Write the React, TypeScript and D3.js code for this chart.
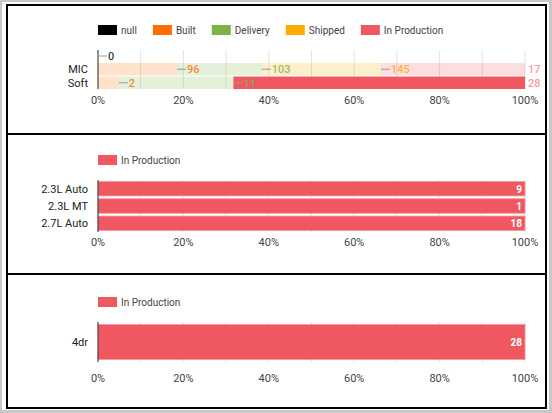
import React from "react";
import * as d3 from "d3";

const seriesNames = ["null", "Built", "Delivery", "Shipped", "In Production"];
const seriesColors = ["#000000", "#ff6d00", "#7cb342", "#ffab00", "#ef5860"];

const chart1Categories = ["MIC", "Soft"];
const micValues: (number | null)[] = [0, 96, 103, 145, 175];
const softValues: (number | null)[] = [null, 2, 11, null, 28];

const chart2Categories = ["2.3L Auto", "2.3L MT", "2.7L Auto"];
const chart2Values = [9, 1, 18];

const chart3Categories = ["4dr"];
const chart3Values = [28];

const tickValues = [0, 0.2, 0.4, 0.6, 0.8, 1];
const gridValues = d3.range(0, 11).map((d) => d / 10);

const FONT = "Roboto, 'Noto Sans', sans-serif";
const X0 = 98;
const X1 = 525;

const x = d3.scaleLinear().domain([0, 1]).range([X0, X1]);
const fmt = d3.format(".0%");

let ctx: CanvasRenderingContext2D | null = null;
function textWidth(s: string, size: number) {
  if (!ctx && typeof document !== "undefined") {
    ctx = document.createElement("canvas").getContext("2d");
  }
  if (!ctx) return s.length * size * 0.5;
  ctx.font = `${size}px Roboto`;
  return ctx.measureText(s).width;
}

function Axis({ top, bottom, tickY }: { top: number; bottom: number; tickY: number }) {
  return (
    <g>
      {gridValues.map((g) => (
        <line key={g} x1={x(g)} x2={x(g)} y1={top} y2={bottom} stroke="#e4e4e4" strokeWidth={1} />
      ))}
      {tickValues.map((t) => (
        <text key={t} x={x(t)} y={tickY} textAnchor="middle" fontSize={11} fill="#444" fontFamily={FONT}>
          {fmt(t)}
        </text>
      ))}
    </g>
  );
}

function Legend({ y, names, colors }: { y: number; names: string[]; colors: string[] }) {
  let cx = X0;
  const items: React.ReactNode[] = [];
  names.forEach((n, i) => {
    const w = textWidth(n, 10);
    items.push(
      <g key={n}>
        <rect x={cx} y={y - 5} width={19} height={10} fill={colors[i]} />
        <text x={cx + 23} y={y + 3.5} fontSize={10} fill="#444" fontFamily={FONT}>
          {n}
        </text>
      </g>
    );
    cx += 23 + w + 16;
  });
  return <g>{items}</g>;
}

function Chart1() {
  const rows = [micValues, softValues];
  const table = rows.map((vals) => {
    const o: any = {};
    seriesNames.forEach((s, i) => (o[s] = vals[i] ?? 0));
    return o;
  });
  const stacked = d3.stack().keys(seriesNames).offset(d3.stackOffsetExpand)(table);
  const y = d3.scaleBand().domain(chart1Categories).range([63, 89]).paddingInner(0.08);
  const top = 50;
  const bottom = 89;
  const marks: React.ReactNode[] = [];
  const labels: React.ReactNode[] = [];
  stacked.forEach((layer, si) => {
    layer.forEach((seg, ri) => {
      const cat = chart1Categories[ri];
      const v = rows[ri][si];
      const full = ri === 1 && si === 4;
      const yy = y(cat)!;
      const bw = x(seg[1]) - x(seg[0]);
      if (bw > 0) {
        marks.push(
          <rect
            key={`b${si}-${ri}`}
            x={x(seg[0])}
            y={yy}
            width={bw}
            height={y.bandwidth()}
            fill={seriesColors[si]}
            fillOpacity={full ? 1 : 0.2}
          />
        );
      }
      if (v !== null && v !== undefined) {
        const end = x(seg[1]);
        let ly = yy + y.bandwidth() / 2;
        if (v === 0) ly = yy - 7;
        const atEnd = end >= X1 - 0.5;
        const tx = atEnd ? end + 3 : end + 10;
        labels.push(
          <g key={`a${si}-${ri}`}>
            {!atEnd && <line x1={end} x2={end + 9} y1={ly} y2={ly} stroke="#999" strokeWidth={1} />}
            <text
              x={tx}
              y={ly + 4}
              fontSize={11}
              fontWeight={500}
              fill={seriesColors[si]}
              fillOpacity={atEnd ? 0.6 : 0.8}
              fontFamily={FONT}
            >
              {v}
            </text>
          </g>
        );
      }
    });
  });
  return (
    <g>
      <Legend y={30} names={seriesNames} colors={seriesColors} />
      <Axis top={top} bottom={bottom} tickY={104} />
      {marks}
      <line x1={X0} x2={X0} y1={top} y2={bottom} stroke="#333" strokeWidth={1} />
      <g clipPath="url(#annot)">{labels}</g>
      {chart1Categories.map((c) => (
        <text key={c} x={88} y={y(c)! + y.bandwidth() / 2 + 4} textAnchor="end" fontSize={11} fill="#222" fontFamily={FONT}>
          {c}
        </text>
      ))}
    </g>
  );
}

function SingleChart({
  cats,
  vals,
  legendY,
  top,
  bottom,
  tickY,
  pad,
}: {
  cats: string[];
  vals: number[];
  legendY: number;
  top: number;
  bottom: number;
  tickY: number;
  pad: number;
}) {
  const y = d3.scaleBand().domain(cats).range([top, bottom]).paddingInner(pad).paddingOuter(pad / 2);
  const color = seriesColors[4];
  return (
    <g>
      <Legend y={legendY} names={["In Production"]} colors={[color]} />
      <Axis top={top} bottom={bottom} tickY={tickY} />
      {cats.map((c, i) => (
        <g key={c}>
          <rect x={x(0)} y={y(c)} width={x(vals[i] / vals[i]) - x(0)} height={y.bandwidth()} fill={color} stroke="#f59a9e" strokeWidth={0.8} />
          <text x={x(1) - 3} y={y(c)! + y.bandwidth() / 2 + 4} textAnchor="end" fontSize={10} fontWeight="bold" fill="#fff" fontFamily={FONT}>
            {vals[i]}
          </text>
          <text x={88} y={y(c)! + y.bandwidth() / 2 + 4} textAnchor="end" fontSize={11} fill="#222" fontFamily={FONT}>
            {c}
          </text>
        </g>
      ))}
      <line x1={X0} x2={X0} y1={top} y2={bottom} stroke="#333" strokeWidth={1} />
    </g>
  );
}

export default function App() {
  return (
    <svg width={552} height={413} style={{ position: "absolute", left: 0, top: 0 }}>
      <defs>
        <clipPath id="inner">
          <rect x={8} y={6} width={537} height={401} />
        </clipPath>
        <clipPath id="annot">
          <rect x={8} y={6} width={533} height={127} />
        </clipPath>
      </defs>
      <rect x={0} y={0} width={552} height={413} fill="#c8c8c8" />
      <rect x={2} y={2} width={547} height={408} fill="#ffffff" />
      <g clipPath="url(#inner)">
        <Chart1 />
        <SingleChart cats={chart2Categories} vals={chart2Values} legendY={160} top={180} bottom={232} tickY={246} pad={0.16} />
        <SingleChart cats={chart3Categories} vals={chart3Values} legendY={302} top={322} bottom={362} tickY={382} pad={0.12} />
      </g>
      <g stroke="#000" strokeWidth={2}>
        <line x1={7} x2={7} y1={4} y2={409} />
        <line x1={546} x2={546} y1={4} y2={409} />
        <line x1={6} x2={547} y1={5} y2={5} />
        <line x1={6} x2={547} y1={134} y2={134} />
        <line x1={6} x2={547} y1={274} y2={274} />
        <line x1={6} x2={547} y1={408} y2={408} />
      </g>
    </svg>
  );
}
